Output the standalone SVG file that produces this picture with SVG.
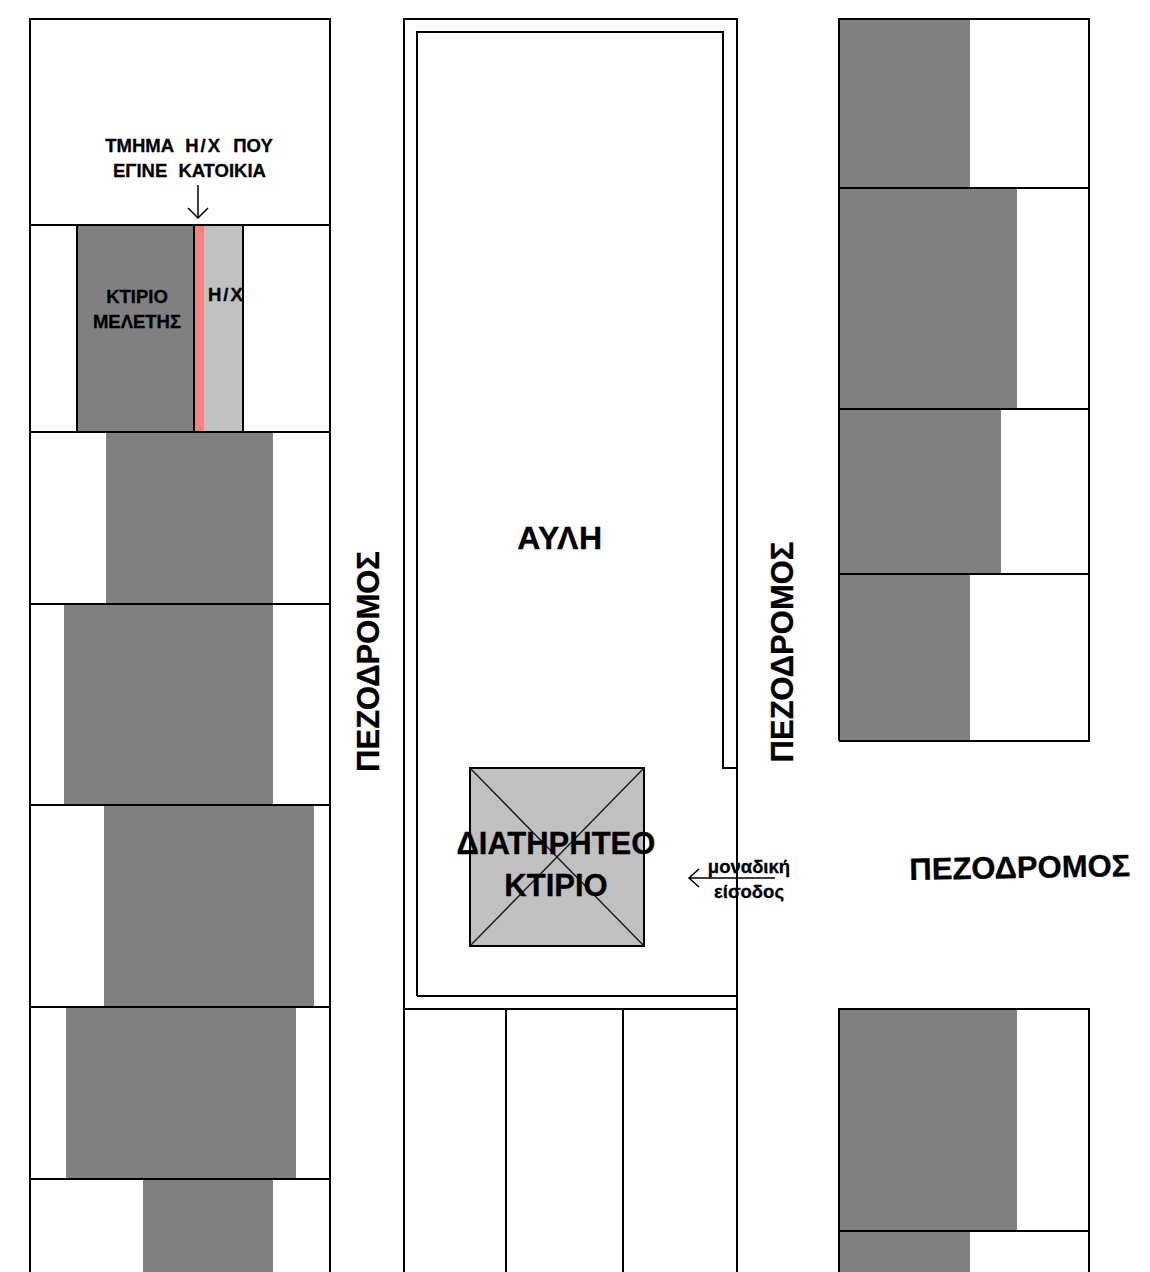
<svg xmlns="http://www.w3.org/2000/svg" width="1150" height="1272" viewBox="0 0 1150 1272">
<style>
.l{stroke:#000;stroke-width:2;fill:none}
.g{fill:#808080}
.t{font-family:"Liberation Sans",Arial,sans-serif;font-weight:bold;fill:#000;stroke:#000;stroke-width:.3;text-anchor:middle}
.s{font-size:18.5px}
.b{font-size:31px}
.a{stroke:#000;stroke-width:1.5;fill:none}
</style>
<defs><clipPath id="hx"><rect x="195" y="226" width="47.5" height="205"/></clipPath></defs>
<rect width="1150" height="1272" fill="#fff"/>
<g id="left-buildings">
<rect class="g" x="106" y="432" width="167" height="172"/>
<rect class="g" x="64" y="604" width="209" height="201"/>
<rect class="g" x="104" y="805" width="210" height="202"/>
<rect class="g" x="66" y="1007" width="230" height="172"/>
<rect class="g" x="143" y="1179" width="130" height="93"/>
</g>
<g id="right-buildings">
<rect class="g" x="839" y="19" width="131" height="169"/>
<rect class="g" x="839" y="188" width="178" height="221"/>
<rect class="g" x="839" y="409" width="162" height="165"/>
<rect class="g" x="839" y="574" width="131" height="167"/>
<rect class="g" x="839" y="1009" width="178" height="222"/>
<rect class="g" x="839" y="1231" width="131" height="41"/>
</g>
<g id="study-building">
<rect x="77" y="225" width="117" height="207" fill="#808080" stroke="#000" stroke-width="2"/>
<rect x="194" y="225" width="49" height="207" fill="#c0c0c0" stroke="#000" stroke-width="2"/>
<rect x="195" y="226" width="9" height="205" fill="#f88080"/>
<text class="t s" x="137" y="303">ΚΤΙΡΙΟ</text>
<text class="t s" x="137" y="328">ΜΕΛΕΤΗΣ</text>
<g clip-path="url(#hx)"><text class="t s" x="208" y="301" letter-spacing="2" style="text-anchor:start">Η/Χ</text></g>
</g>
<g id="blocks">
<path class="l" d="M30 1272V19H330V1272M30 225H330M30 432H330M30 604H330M30 805H330M30 1007H330M30 1179H330"/>
<path class="l" d="M404 1272V19H737V1272M417 996V32H723V768H737M417 996H737M404 1009H737M506 1009V1272M623 1009V1272"/>
<path class="l" d="M839 741V19H1089V741H839M839 188H1089M839 409H1089M839 574H1089M839 1272V1009H1089V1272M839 1231H1089"/>
</g>
<g id="preserved-building">
<rect x="470" y="768" width="174" height="178" fill="#c0c0c0" stroke="#000" stroke-width="2"/>
<path d="M470 768L644 946M644 768L470 946" stroke="#222" stroke-width="1.5" fill="none"/>
<text class="t b" x="556" y="854">ΔΙΑΤΗΡΗΤΕΟ</text>
<text class="t b" x="556" y="896">ΚΤΙΡΙΟ</text>
</g>
<g id="connectors">
<path class="a" d="M198 185V217M188 208L198 218L208 208"/>
<path class="a" d="M775 878H690M699 869L689 878L699 887"/>
</g>
<g id="labels">
<text class="t s" x="189" y="152" word-spacing="6">ΤΜΗΜΑ <tspan letter-spacing="2">Η/Χ</tspan> ΠΟΥ</text>
<text class="t s" x="189.500" y="177" word-spacing="6">ΕΓΙΝΕ ΚΑΤΟΙΚΙΑ</text>
<text class="t" x="560" y="549" font-size="32" letter-spacing=".6">ΑΥΛΗ</text>
<text class="t b" transform="translate(379 661.5) rotate(-90)">ΠΕΖΟΔΡΟΜΟΣ</text>
<text class="t b" transform="translate(793 652) rotate(-90)">ΠΕΖΟΔΡΟΜΟΣ</text>
<text class="t b" transform="translate(1020 878) rotate(-1)">ΠΕΖΟΔΡΟΜΟΣ</text>
<text class="t s" x="749" y="873">μοναδική</text>
<text class="t s" x="749" y="898">είσοδος</text>
</g>
</svg>
